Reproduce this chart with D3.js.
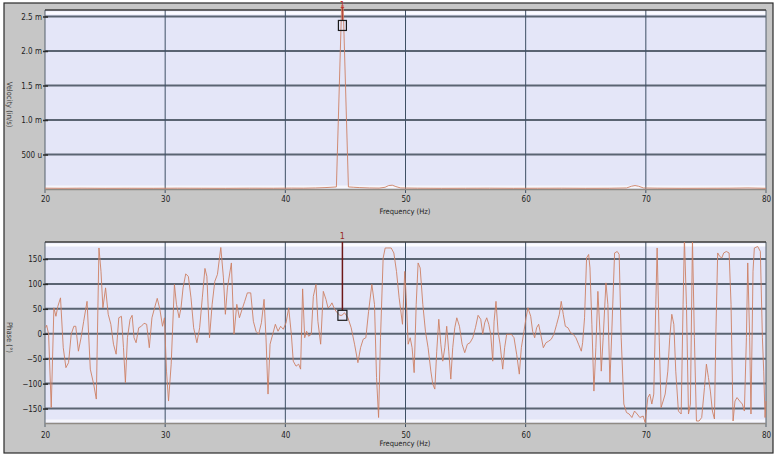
<!DOCTYPE html>
<html>
<head>
<meta charset="utf-8">
<script src="https://cdn.jsdelivr.net/npm/d3@7"></script>
<style>
  body { margin: 0; background: #fff; }
  svg { display: block; }
  text { font-family: "DejaVu Sans Condensed", "DejaVu Sans", sans-serif; }
</style>
</head>
<body>
<svg id="chart" width="780" height="458"></svg>
<script>
// ---- data ----
const freqTicks = [20, 30, 40, 50, 60, 70, 80]
const velTicks = [0.5, 1.0, 1.5, 2.0, 2.5] // milli
const velTickLabels = ['500 u', '1.0 m', '1.5 m', '2.0 m', '2.5 m']
const phaseTicks = [-150, -100, -50, 0, 50, 100, 150]

// spectrum magnitude (values in milli units)
const velFreq = [20, 21.5, 23, 25, 27, 29, 31, 33, 35, 37, 39, 40.5, 41.5, 42.5, 43.3, 43.8, 44.25, 44.75, 45.25, 45.7, 46.2, 47, 47.8, 48.3, 48.6, 48.9, 49.2, 49.6, 51, 53, 55, 57, 59, 61, 63, 65, 67, 68.4, 68.8, 69.1, 69.4, 69.8, 71, 73, 75, 77, 78.5, 79.5, 80]
const velMilli = [0.012, 0.01, 0.012, 0.01, 0.011, 0.01, 0.012, 0.011, 0.01, 0.012, 0.011, 0.013, 0.012, 0.015, 0.02, 0.025, 0.03, 3.05, 0.03, 0.025, 0.02, 0.015, 0.013, 0.025, 0.05, 0.055, 0.035, 0.015, 0.012, 0.01, 0.011, 0.012, 0.01, 0.011, 0.012, 0.01, 0.011, 0.015, 0.04, 0.05, 0.04, 0.015, 0.012, 0.01, 0.011, 0.012, 0.015, 0.012, 0.01]

// phase trace (degrees)
const phaseFreq = [
  20.05, 20.14, 20.30, 20.52, 20.74, 20.91, 21.07, 21.29, 21.52, 21.74, 21.96, 22.18, 22.40, 22.56, 22.78, 23.00, 23.22, 23.50, 23.77, 24.05,
  24.27, 24.49, 24.66, 24.82, 25.04, 25.26, 25.48, 25.70, 25.92, 26.14, 26.36, 26.53, 26.69, 26.86, 27.08, 27.25, 27.41, 27.58, 27.80, 28.02,
  28.24, 28.46, 28.68, 28.90, 29.12, 29.34, 29.56, 29.78, 29.94, 30.11, 30.28, 30.50, 30.77, 30.94, 31.16, 31.32, 31.49, 31.71, 31.93, 32.15,
  32.37, 32.64, 32.87, 33.09, 33.31, 33.47, 33.69, 33.91, 34.13, 34.35, 34.63, 34.85, 35.01, 35.18, 35.51, 35.73, 35.96, 36.18, 36.40, 36.62,
  36.84, 37.12, 37.34, 37.56, 37.78, 38.01, 38.23, 38.39, 38.56, 38.73, 38.95, 39.17, 39.39, 39.61, 39.83, 40.06, 40.28, 40.50, 40.66, 40.89,
  41.11, 41.27, 41.44, 41.61, 41.77, 41.94, 42.16, 42.33, 42.55, 42.71, 42.94, 43.16, 43.38, 43.55, 43.71, 43.88, 44.10, 44.32, 44.54, 44.71,
  44.93, 45.21, 45.48, 45.76, 46.04, 46.26, 46.48, 46.70, 46.93, 47.20, 47.42, 47.59, 47.76, 47.92, 48.14, 48.31, 48.53, 48.81, 49.03, 49.25,
  49.47, 49.75, 49.94, 50.06, 50.22, 50.39, 50.55, 50.72, 50.89, 51.05, 51.22, 51.44, 51.66, 51.88, 52.11, 52.27, 52.44, 52.60, 52.77, 52.94,
  53.10, 53.27, 53.43, 53.60, 53.77, 53.93, 54.10, 54.27, 54.49, 54.71, 54.93, 55.15, 55.37, 55.60, 55.82, 56.04, 56.26, 56.43, 56.59, 56.76,
  56.93, 57.09, 57.26, 57.37, 57.53, 57.70, 57.87, 58.09, 58.25, 58.42, 58.59, 58.81, 59.03, 59.25, 59.47, 59.64, 59.86, 60.03, 60.19, 60.42,
  60.58, 60.75, 60.91, 61.08, 61.25, 61.47, 61.69, 61.91, 62.13, 62.35, 62.58, 62.80, 62.96, 63.13, 63.30, 63.52, 63.74, 63.96, 64.18, 64.40,
  64.63, 64.74, 64.90, 65.07, 65.24, 65.35, 65.51, 65.68, 65.84, 66.01, 66.18, 66.29, 66.45, 66.68, 66.84, 67.01, 67.17, 67.40, 67.62, 67.78,
  67.95, 68.17, 68.39, 68.61, 68.84, 69.06, 69.28, 69.50, 69.78, 69.94, 70.17, 70.33, 70.50, 70.66, 70.83, 70.94, 71.11, 71.27, 71.44, 71.61,
  71.83, 71.99, 72.16, 72.33, 72.49, 72.71, 72.94, 73.10, 73.21, 73.38, 73.55, 73.71, 73.88, 74.04, 74.21, 74.43, 74.65, 74.88, 75.04, 75.21,
  75.37, 75.54, 75.71, 75.82, 75.98, 76.15, 76.32, 76.48, 76.70, 76.93, 77.09, 77.26, 77.42, 77.59, 77.81, 78.03, 78.20, 78.37, 78.48, 78.64,
  78.75, 78.92, 79.03, 79.31, 79.53, 79.70, 79.81, 79.92, 80.0
]
const phaseDeg = [
  12, 17, -1, -148, 52, 35, 55, 72, -28, -68, -58, -1, 15, 15, -35, -8, 25, 65, -71, -101,
  -131, 172, 125, 52, 92, 39, 19, -21, -41, 32, 35, -28, -98, -8, 29, 37, -8, -18, 12, 15,
  21, 19, -28, 32, 52, 71, 49, 15, 32, -75, -135, -61, 99, 59, 32, 52, 92, 120, 115, 72,
  12, -18, 12, 72, 131, 115, -8, 59, 105, 119, 173, 112, 39, 92, 142, -1, 59, 32, 49, 65,
  82, 82, 25, 5, -1, 22, 69, -8, -121, -21, -1, 19, 5, 15, 9, 22, 52, -1, -55, -65,
  -61, -71, 90, -8, 5, -5, -1, 75, 99, 25, -21, 85, 69, 52, 55, 62, 49, 42, 37, 37,
  42, 32, 12, -21, -58, -28, -11, -8, 45, 99, 59, -88, -168, -8, 152, 172, 172, 172, 162, 125,
  72, 19, 125, 72, -21, -8, -28, -78, 59, 142, 132, 59, 5, -28, -75, -101, -111, -35, 29, -21,
  -55, -28, 15, -35, -91, -28, 12, 32, 15, -21, -38, -21, -18, -8, 12, 37, 29, -1, 22, 32,
  19, -1, -55, 25, 65, 5, -21, -71, -28, -1, -1, -1, -8, -41, -81, -28, 5, 32, 52, 35,
  5, -8, 12, 19, -1, -28, -18, -15, -11, -1, 19, 39, 65, 39, 15, 12, 2, -1, -8, -21,
  -35, -18, 32, 152, 159, 132, 19, -115, -28, 85, 5, -75, -8, 102, 59, -98, 5, 162, 165, 159,
  -8, -141, -158, -161, -168, -155, -161, -168, -165, -178, -128, -121, -141, -121, 59, 172, -8, -148, -135, -121,
  -75, -8, 39, 19, -75, -155, -161, 59, 190, 59, -161, -141, 190, -8, -175, -175, -168, -108, -61, -88,
  -115, -155, -171, -8, 162, 155, 152, 162, 165, 162, 59, -175, -135, -128, -135, -141, -155, -8, 142, -8,
  -161, 125, 172, 175, 165, -8, -75, -168, -135
]

const markerFreq = 44.75
const markerVel = 2.37
const markerPhase = 37

// ---- settings ----
const settings = {
  width: 780,
  height: 458,
  xLeft: 45,
  xRight: 766,
  top: { y0: 10, y1: 189 },
  bottom: { y0: 242, y1: 423 },
  panelFill: '#c6c6c6',
  plotFill: '#e4e6f8',
  gridH: '#5a6472',
  gridV: '#3e5064',
  trace: '#cd8064',
  text: '#1e1e1e',
  fontSize: 8
}

const svg = d3.select('#chart')

svg.append('rect')
  .attr('x', 4).attr('y', 3)
  .attr('width', 769).attr('height', 450)
  .attr('fill', settings.panelFill)
  .attr('stroke', '#2a2a2a')
  .attr('stroke-width', 1.2)

const x = d3.scaleLinear().domain([20, 80]).range([settings.xLeft, settings.xRight])
const yVel = d3.scaleLinear().domain([0, 2.594]).range([settings.top.y1, settings.top.y0])
const yPhase = d3.scaleLinear().domain([-179, 184]).range([settings.bottom.y1, settings.bottom.y0])

function drawPanel(id, box, y, yTicks, yFormat, yLabel, freqs, values, clipTop) {
  const g = svg.append('g')

  // plot area
  g.append('rect')
    .attr('x', settings.xLeft).attr('y', box.y0)
    .attr('width', settings.xRight - settings.xLeft)
    .attr('height', box.y1 - box.y0)
    .attr('fill', settings.plotFill)

  // white band below the top border
  g.append('line')
    .attr('x1', settings.xLeft).attr('x2', settings.xRight)
    .attr('y1', box.y0 + 3).attr('y2', box.y0 + 3)
    .attr('stroke', '#fbfbff').attr('stroke-width', 3)
  g.append('line')
    .attr('x1', settings.xLeft).attr('x2', settings.xRight)
    .attr('y1', box.y1 - 2).attr('y2', box.y1 - 2)
    .attr('stroke', '#f6f6fc').attr('stroke-width', 3)

  // horizontal grid
  g.selectAll('.hgrid')
    .data(yTicks)
    .join('line')
    .attr('x1', settings.xLeft).attr('x2', settings.xRight)
    .attr('y1', d => y(d)).attr('y2', d => y(d))
    .attr('stroke', settings.gridH)
    .attr('stroke-width', 2)

  // vertical grid
  g.selectAll('.vgrid')
    .data(freqTicks)
    .join('line')
    .attr('x1', d => x(d)).attr('x2', d => x(d))
    .attr('y1', box.y0).attr('y2', box.y1 + 4)
    .attr('stroke', d => (d === 20 || d === 80) ? '#55606c' : settings.gridV)
    .attr('stroke-width', 1)

  // borders
  g.append('line')
    .attr('x1', settings.xLeft).attr('x2', settings.xRight)
    .attr('y1', box.y0).attr('y2', box.y0)
    .attr('stroke', '#3a3a3a').attr('stroke-width', 1.5)
  g.append('line')
    .attr('x1', settings.xLeft).attr('x2', settings.xRight)
    .attr('y1', box.y1 + 0.5).attr('y2', box.y1 + 0.5)
    .attr('stroke', '#8f8a84').attr('stroke-width', 1.5)

  // y axis ticks and labels
  const yAxis = d3.axisLeft(y)
    .tickValues(yTicks)
    .tickFormat(yFormat)
    .tickSize(5)
    .tickPadding(1)
  const ya = g.append('g')
    .attr('transform', `translate(${settings.xLeft + 3},0)`)
    .call(yAxis)
  ya.select('.domain').remove()
  ya.selectAll('line').attr('stroke', '#2a2a2a').attr('stroke-width', 1.5)
  ya.selectAll('text')
    .attr('fill', settings.text)
    .style('font-size', settings.fontSize + 'px')
    .style('font-family', '"DejaVu Sans Condensed", sans-serif')

  // x axis labels
  const xAxis = d3.axisBottom(x)
    .tickValues(freqTicks)
    .tickSize(0)
    .tickPadding(id === 'top' ? 7 : 9)
  const xa = g.append('g')
    .attr('transform', `translate(0,${box.y1})`)
    .call(xAxis)
  xa.select('.domain').remove()
  xa.selectAll('text')
    .attr('fill', settings.text)
    .style('font-size', settings.fontSize + 'px')
    .style('font-family', '"DejaVu Sans Condensed", sans-serif')

  g.append('text')
    .attr('x', 405)
    .attr('y', box.y1 + (id === 'top' ? 25 : 23))
    .attr('text-anchor', 'middle')
    .attr('fill', settings.text)
    .style('font-size', '7.5px')
    .text('Frequency (Hz)')

  g.append('text')
    .attr('transform', `translate(7,${(box.y0 + box.y1) / 2 + 5}) rotate(90)`)
    .attr('text-anchor', 'middle')
    .attr('fill', '#3a3a3a')
    .style('font-size', '7.5px')
    .text(yLabel)

  // trace
  g.append('clipPath').attr('id', 'clip-' + id)
    .append('rect')
    .attr('x', settings.xLeft).attr('y', clipTop)
    .attr('width', settings.xRight - settings.xLeft + 1)
    .attr('height', box.y1 - clipTop)

  const line = d3.line()
    .x((d, i) => x(freqs[i]))
    .y(d => y(d))

  g.append('path')
    .datum(values)
    .attr('clip-path', `url(#clip-${id})`)
    .attr('fill', 'none')
    .attr('stroke', settings.trace)
    .attr('stroke-width', 0.9)
    .attr('stroke-linejoin', 'round')
    .attr('d', line)

  return g
}

const topG = drawPanel('top', settings.top, yVel, velTicks,
  (d, i) => velTickLabels[i], 'Velocity (in/s)', velFreq, velMilli, 5)
const botG = drawPanel('bottom', settings.bottom, yPhase, phaseTicks,
  d => d3.format('d')(d), 'Phase (°)', phaseFreq, phaseDeg, settings.bottom.y0)

// ---- peak marker "1" ----
const mx = x(markerFreq)

topG.append('line')
  .attr('x1', mx).attr('x2', mx)
  .attr('y1', 7).attr('y2', yVel(markerVel) - 5)
  .attr('stroke', '#b0382c').attr('stroke-width', 1)
topG.append('rect')
  .attr('x', mx - 4).attr('y', yVel(markerVel) - 5)
  .attr('width', 8).attr('height', 10)
  .attr('fill', 'none').attr('stroke', '#1a1a1a').attr('stroke-width', 1.2)
topG.append('text')
  .attr('x', mx).attr('y', 8)
  .attr('text-anchor', 'middle')
  .attr('fill', '#c0302a')
  .style('font-size', '9px')
  .text('1')

botG.append('line')
  .attr('x1', mx).attr('x2', mx)
  .attr('y1', settings.bottom.y0).attr('y2', yPhase(markerPhase) - 5)
  .attr('stroke', '#6e1818').attr('stroke-width', 1.5)
botG.append('rect')
  .attr('x', mx - 4.5).attr('y', yPhase(markerPhase) - 5)
  .attr('width', 9).attr('height', 10)
  .attr('fill', 'none').attr('stroke', '#1a1a1a').attr('stroke-width', 1.2)
botG.append('text')
  .attr('x', mx).attr('y', 239)
  .attr('text-anchor', 'middle')
  .attr('fill', '#9a2a22')
  .style('font-size', '9px')
  .text('1')
</script>
</body>
</html>
